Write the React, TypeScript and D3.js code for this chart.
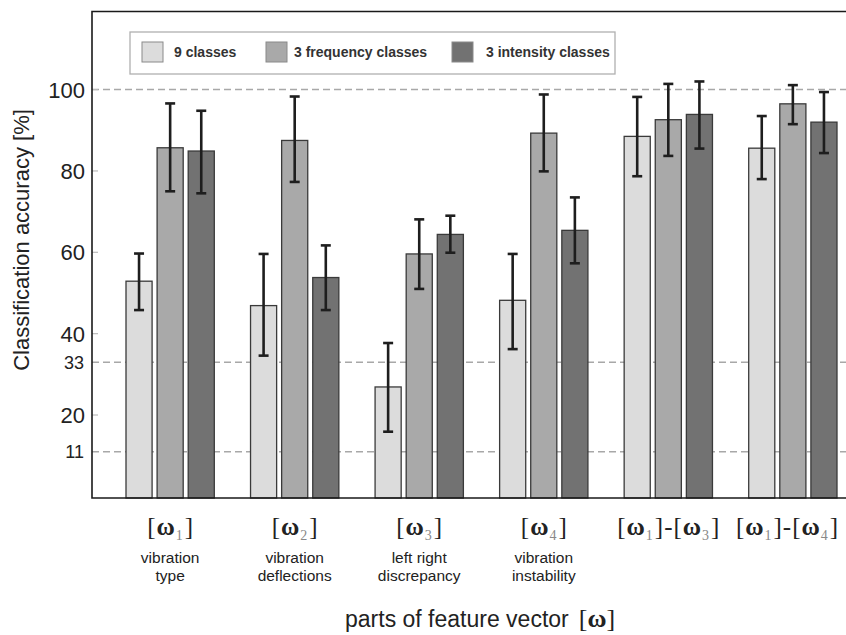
import React from "react";
import * as d3 from "d3";

// feature vector parts (subscripts of ω) and their descriptions
const groupSubs: number[][] = [[1], [2], [3], [4], [1, 3], [1, 4]];
const groupDesc: string[][] = [
  ["vibration", "type"],
  ["vibration", "deflections"],
  ["left right", "discrepancy"],
  ["vibration", "instability"],
  [],
  [],
];
const groupKeys = groupSubs.map((s) => s.join("-"));

const seriesNames = ["9 classes", "3 frequency classes", "3 intensity classes"];
const seriesColors = ["#dcdcdc", "#a9a9a9", "#727272"];

// mean accuracy [%] and error bar ends
const nineClasses = [52.9, 46.9, 26.9, 48.2, 88.5, 85.6];
const nineLow = [45.8, 34.6, 15.9, 36.2, 78.7, 78.0];
const nineHigh = [59.7, 59.6, 37.7, 59.6, 98.2, 93.5];

const freqClasses = [85.7, 87.5, 59.6, 89.3, 92.6, 96.5];
const freqLow = [75.0, 77.3, 51.0, 79.9, 83.7, 91.5];
const freqHigh = [96.6, 98.3, 68.1, 98.8, 101.4, 101.1];

const intClasses = [84.9, 53.8, 64.4, 65.4, 93.9, 92.0];
const intLow = [74.5, 45.8, 59.9, 57.3, 85.5, 84.4];
const intHigh = [94.8, 61.7, 69.0, 73.5, 102.0, 99.4];

const bigTicks = [100, 80, 60, 40, 20];
const smallTicks = [33, 11];
const dashedLines = [100, 33, 11];

const W = 846;
const H = 635;
const left = 92;
const top = 11.5;
const bottom = 498;

const sansFont = "'Liberation Sans', Arial, sans-serif";
const serifFont = "'Liberation Serif', 'Times New Roman', serif";

const OmegaLabel: React.FC<{ subs: number[]; x: number; y: number }> = ({ subs, x, y }) => (
  <text x={x} y={y} textAnchor="middle" fontFamily={serifFont} fontSize={25} fill="#222">
    {subs.map((s, i) => (
      <React.Fragment key={i}>
        {i > 0 && <tspan dx={1}>-</tspan>}
        <tspan dx={i > 0 ? 1 : 0}>[</tspan>
        <tspan fontWeight="bold" dx={1}>ω</tspan>
        <tspan fontSize={14} dy={5} dx={1} fill="#888">
          {s}
        </tspan>
        <tspan dy={-5} dx={2}>]</tspan>
      </React.Fragment>
    ))}
  </text>
);

export default function App() {
  const y = d3.scaleLinear().domain([-0.4, 119.2]).range([bottom, top]);

  const x0 = d3
    .scaleBand<string>()
    .domain(groupKeys)
    .range([left, 871])
    .paddingInner(0.291)
    .paddingOuter(0.273);

  const x1 = d3
    .scaleBand<string>()
    .domain(seriesNames)
    .range([0, x0.bandwidth()])
    .paddingInner(0.161);

  const values = [nineClasses, freqClasses, intClasses];
  const lows = [nineLow, freqLow, intLow];
  const highs = [nineHigh, freqHigh, intHigh];

  const cap = 5;

  return (
    <svg
      width={W}
      height={H}
      style={{ position: "absolute", left: 0, top: 0, background: "#fff" }}
    >
      <rect width={W} height={H} fill="#fff" />

      {/* dashed reference lines */}
      {dashedLines.map((v) => (
        <line
          key={v}
          x1={left}
          x2={W}
          y1={y(v)}
          y2={y(v)}
          stroke="#a8a8a8"
          strokeWidth={1.5}
          strokeDasharray="7,4"
        />
      ))}

      {/* small tick marks */}
      {bigTicks.map((v) => (
        <line key={v} x1={left} x2={left + 6} y1={y(v)} y2={y(v)} stroke="#bbb" strokeWidth={1.2} />
      ))}

      {/* bars */}
      {groupKeys.map((g, gi) => (
        <g key={g} transform={`translate(${x0(g)},0)`}>
          {seriesNames.map((s, si) => {
            const bx = x1(s) as number;
            const bw = x1.bandwidth();
            const v = values[si][gi];
            const cx = bx + bw / 2;
            return (
              <g key={s}>
                <rect
                  x={bx}
                  y={y(v)}
                  width={bw}
                  height={bottom - y(v)}
                  fill={seriesColors[si]}
                  stroke="#3a3a3a"
                  strokeWidth={1.3}
                />
                <g stroke="#1e1e1e" strokeWidth={2.6}>
                  <line x1={cx} x2={cx} y1={y(highs[si][gi])} y2={y(lows[si][gi])} />
                  <line x1={cx - cap} x2={cx + cap} y1={y(highs[si][gi])} y2={y(highs[si][gi])} />
                  <line x1={cx - cap} x2={cx + cap} y1={y(lows[si][gi])} y2={y(lows[si][gi])} />
                </g>
              </g>
            );
          })}
        </g>
      ))}

      {/* frame */}
      <path
        d={`M${W},${top} H${left} V${bottom} H${W}`}
        fill="none"
        stroke="#1a1a1a"
        strokeWidth={1.6}
      />

      {/* y tick labels */}
      {bigTicks.map((v) => (
        <text
          key={v}
          x={85}
          y={y(v)}
          dy="0.36em"
          textAnchor="end"
          fontFamily={sansFont}
          fontSize={22}
          fill="#222"
        >
          {v}
        </text>
      ))}
      {smallTicks.map((v) => (
        <text
          key={v}
          x={84}
          y={y(v)}
          dy="0.36em"
          textAnchor="end"
          fontFamily={sansFont}
          fontSize={18}
          fill="#222"
        >
          {v}
        </text>
      ))}

      {/* y title */}
      <text
        transform={`translate(29,240) rotate(-90)`}
        textAnchor="middle"
        fontFamily={sansFont}
        fontSize={22}
        fill="#222"
      >
        Classification accuracy [%]
      </text>

      {/* legend */}
      <rect x={130} y={32} width={485} height={42} fill="#fff" stroke="#b0b0b0" strokeWidth={1.3} />
      {[
        [142, 174],
        [266, 294],
        [452, 486],
      ].map(([lx, tx], i) => (
        <g key={seriesNames[i]}>
          <rect
            x={lx}
            y={42}
            width={21}
            height={20}
            fill={seriesColors[i]}
            stroke="#8a8a8a"
            strokeWidth={1}
          />
          <text
            x={tx}
            y={57}
            fontFamily={sansFont}
            fontSize={14}
            fontWeight="bold"
            fill="#333"
          >
            {seriesNames[i]}
          </text>
        </g>
      ))}

      {/* x category labels */}
      {groupKeys.map((g, gi) => {
        let cx = (x0(g) as number) + x0.bandwidth() / 2;
        if (gi === groupKeys.length - 1) cx = Math.min(cx, 787);
        return (
          <g key={g}>
            <OmegaLabel subs={groupSubs[gi]} x={cx} y={535} />
            {groupDesc[gi].map((line, li) => (
              <text
                key={li}
                x={cx}
                y={563 + li * 18}
                textAnchor="middle"
                fontFamily={sansFont}
                fontSize={15.5}
                fill="#222"
              >
                {line}
              </text>
            ))}
          </g>
        );
      })}

      {/* x title */}
      <text x={345} y={627} fontFamily={sansFont} fontSize={23} fill="#222">
        parts of feature vector
        <tspan fontFamily={serifFont} fontSize={26} dx={10}>
          [<tspan fontWeight="bold">ω</tspan>]
        </tspan>
      </text>
    </svg>
  );
}
